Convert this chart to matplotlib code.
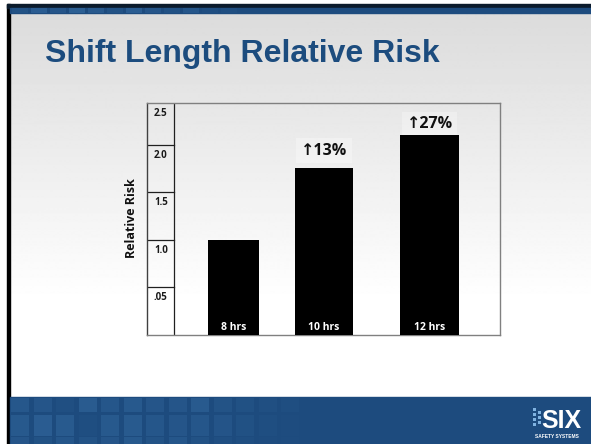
import numpy as np
import matplotlib.pyplot as plt
from matplotlib.patches import Rectangle

# chart values
shifts = ["8 hrs", "10 hrs", "12 hrs"]
relative_risk = [1.0, 1.76, 2.10]
increase_labels = ["", "\u219113%", "\u219127%"]
tick_levels = [2.0, 1.5, 1.0, 0.5]
tick_labels = ["2.0", "1.5", "1.0", ".05"]
top_tick_label = "2.5"

# bar layout (in axes pixels)
bar_centers = [86.5, 177, 282.5]
bar_widths = [51, 58, 59]
label_gaps = [0, 9, 3]

W, H = 591, 444
fig = plt.figure(figsize=(W / 100, H / 100), dpi=100)

# ---- slide background ----
bg = fig.add_axes([0, 0, 1, 1])
bg.set_xlim(0, W)
bg.set_ylim(H, 0)
bg.axis("off")

# grey-to-white gradient body
shade = np.concatenate([np.linspace(0.86, 1.0, 290), np.ones(94)])[:, None]
bg.imshow(shade, cmap="gray", vmin=0, vmax=1, extent=(10, W, 397, 13),
          aspect="auto", interpolation="bilinear", zorder=0)

# black frame on left and top
bg.add_patch(Rectangle((7, 4), 3, H - 4, color="black", zorder=2))
bg.add_patch(Rectangle((7, 4), W - 7, 4, color="#0b1b2c", zorder=2))

# top strip
band_blue = "#1d4b7e"
tile_blue = "#4a86bd"
bg.add_patch(Rectangle((10, 8), W - 10, 5, color=band_blue, zorder=2))
top_tiles = [0.12, 0.3, 0.18, 0.35, 0.25, 0.12, 0.3, 0.18, 0.1, 0.2, 0.06, 0.06]
for i, a in enumerate(top_tiles):
    bg.add_patch(Rectangle((12 + i * 19, 8), 16, 5, color=tile_blue, alpha=a,
                           lw=0, zorder=3))

# bottom strip with mosaic tiles
bg.add_patch(Rectangle((10, 397), W - 10, H - 397, color=band_blue, zorder=2))
tile_rows = [
    (398, 14, [0.22, 0.18, 0.08, 0.28, 0.2, 0.24, 0.18, 0.18, 0.26, 0.14, 0.1, 0.08, 0.05]),
    (415, 21, [0.24, 0.3, 0.26, 0.05, 0.24, 0.26, 0.2, 0.18, 0.2, 0.16, 0.1, 0.05, 0.03]),
    (437, 7, [0.18, 0.12, 0.2, 0.14, 0.18, 0.24, 0.14, 0.2, 0.12, 0.08, 0.05, 0.03, 0.03]),
]
for y0, h, alphas in tile_rows:
    for i, a in enumerate(alphas):
        bg.add_patch(Rectangle((11 + i * 22.5, y0), 18, h, color=tile_blue,
                               alpha=a, lw=0, zorder=3))

# logo
for dx, dy in [(0, 0), (0, 5), (0, 10), (0, 15), (5, 3), (5, 8), (5, 13)]:
    bg.add_patch(Rectangle((533 + dx, 408 + dy), 3, 3, color="#7fb2e0",
                           lw=0, zorder=4))
bg.text(561, 428, "SIX", color="white", fontsize=18, fontweight="bold",
        family="Liberation Sans", ha="center", va="baseline", zorder=5)
bg.text(557, 436, "SAFETY SYSTEMS", color="white", fontsize=3.5,
        fontweight="bold", family="Liberation Sans", ha="center",
        va="center", zorder=5)

# title
fig.text(45 / W, 1 - 62 / H, "Shift Length Relative Risk", color="#1c4c7e",
         fontsize=23, fontweight="bold", family="Liberation Sans",
         va="baseline", ha="left")

# ---- bar chart ----
ax = fig.add_axes([147 / W, (H - 335) / H, 353 / W, 232 / H])
ax.patch.set_alpha(0)
ax.set_xlim(0, 353)
ax.set_ylim(0, 2.44)
ax.set_xticks([])
ax.set_yticks([])
for s in ax.spines.values():
    s.set_color("#808080")
    s.set_linewidth(1)
ax.spines["left"].set_color("#404040")

# left scale column
col_w = 27
ax.axvline(col_w, color="#202020", lw=0.9)
for lvl in tick_levels:
    ax.plot([0, col_w], [lvl, lvl], color="#202020", lw=0.9)

label_font = ["Open Sans", "DejaVu Sans"]
for lvl, lab in zip([2.44] + tick_levels, [top_tick_label] + tick_labels):
    ax.annotate(lab, xy=(7, lvl), xytext=(0, -5), textcoords="offset pixels",
                ha="left", va="top", fontsize=7, fontweight="bold",
                family=label_font, color="#1a1a1a")

ax.bar(bar_centers, relative_risk, width=bar_widths, color="black", zorder=3)

for c, name in zip(bar_centers, shifts):
    ax.annotate(name, xy=(c, 0), xytext=(0, 8), textcoords="offset pixels",
                ha="center", va="center", color="white", fontsize=7.5,
                fontweight="bold", family=label_font, zorder=4)

for c, v, lab, gap in zip(bar_centers, relative_risk, increase_labels, label_gaps):
    if lab:
        ax.annotate(lab, xy=(c, v), xytext=(0, gap), textcoords="offset pixels",
                    ha="center", va="bottom", fontsize=11.5, fontweight="bold",
                    family=label_font, color="#111111", zorder=2,
                    bbox=dict(boxstyle="square,pad=0.3", fc="white",
                              ec="none", alpha=0.3))

fig.text(131.5 / W, 1 - 218 / H, "Relative Risk", rotation=90, ha="center",
         va="center", fontsize=9, fontweight="bold", family=label_font,
         color="#111111")

fig.savefig("out.png", dpi=100)
